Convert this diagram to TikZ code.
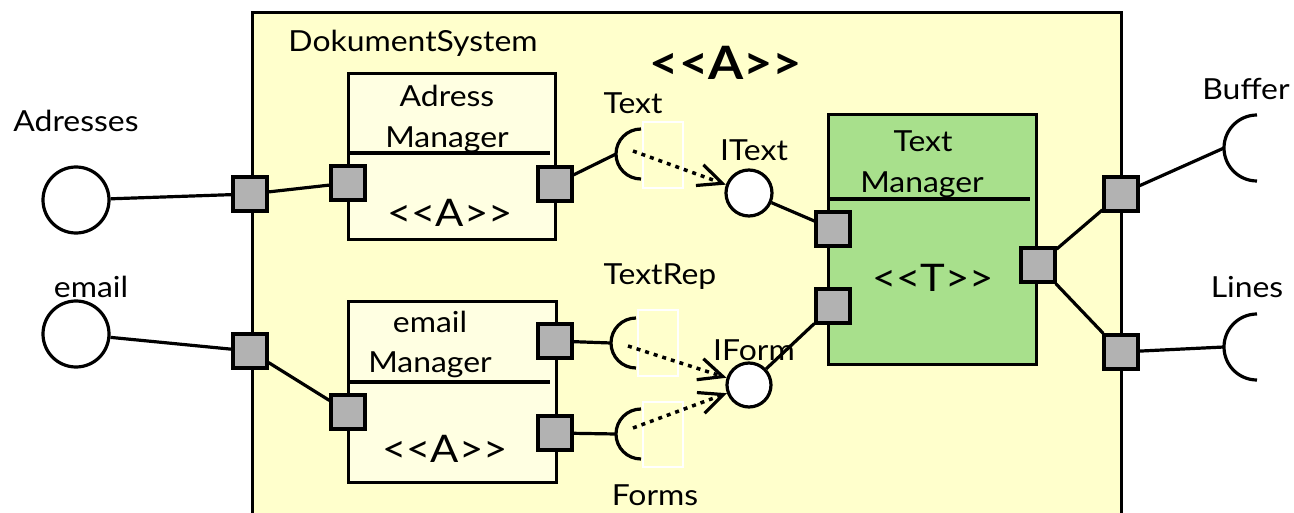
\documentclass[tikz,border=0pt]{standalone}
\usepackage{fontspec}
\setmainfont{Lato}[FakeStretch=1.1]
\usetikzlibrary{arrows.meta}
\definecolor{sysfill}{RGB}{255,255,204}
\definecolor{compfill}{RGB}{255,255,226}
\definecolor{tmfill}{RGB}{168,224,140}
\definecolor{portgray}{RGB}{178,178,178}
\tikzset{
  sysbox/.style={draw, line width=3.2pt, fill=sysfill, anchor=north west, inner sep=0pt},
  compbox/.style={draw, line width=3.2pt, fill=compfill, anchor=north west, inner sep=0pt},
  tmbox/.style={draw, line width=3.2pt, fill=tmfill, anchor=north west, inner sep=0pt},
  port/.style={draw, line width=3.2pt, fill=portgray, minimum size=34pt, inner sep=0pt},
  iface/.style={circle, draw, line width=3.2pt, fill=white, inner sep=0pt},
  wire/.style={line width=3.2pt},
  sock/.style={line width=3.2pt},
  ghost/.style={draw=white, line width=2pt, anchor=north west, inner sep=0pt},
  dep/.style={line width=3.5pt, dash pattern=on 4pt off 5pt, -{Straight Barb[length=24pt,width=22pt,line width=3.2pt]}},
  txt/.style={font=\fontsize{29}{34}\selectfont, anchor=base, inner sep=0pt},
  stereo/.style={font=\fontsize{38}{44}\selectfont, anchor=base, inner sep=0pt},
  bigstereo/.style={font=\bfseries\fontsize{46}{54}\selectfont, anchor=base, inner sep=0pt}
}
\newcommand{\stq}[1]{<{}<#1>{}>}
\begin{document}
\begin{tikzpicture}[x=1pt,y=-1pt]
\useasboundingbox (0,0) rectangle (1294,513);
\clip (0,0) rectangle (1294,513);
\fill[white] (0,0) rectangle (1294,513);

% system box
\node[sysbox, minimum width=869pt, minimum height=540pt] (sys) at (251,11) {};
\node[txt] (tDok) at (413,52) {DokumentSystem};
\node[bigstereo] (tSysA) at (726,80) {\stq{A}};

% Adress Manager
\node[compbox, minimum width=207pt, minimum height=166pt] (am) at (347,72) {};
\draw[wire] (347,153) -- (550,153);
\node[txt] (tAM1) at (447,107) {Adress};
\node[txt] (tAM2) at (447,148) {Manager};
\node[stereo] (tAM3) at (450,227) {\stq{A}};

% email Manager
\node[compbox, minimum width=208pt, minimum height=181pt] (em) at (347,300) {};
\draw[wire] (347,382) -- (550,382);
\node[txt] (tEM1) at (430,332) {email};
\node[txt] (tEM2) at (430,372) {Manager};
\node[stereo] (tEM3) at (445,462) {\stq{A}};

% Text Manager
\node[tmbox, minimum width=208pt, minimum height=250pt] (tm) at (827,113) {};
\draw[wire] (827,199) -- (1030,199);
\node[txt] (tTM1) at (923,152) {Text};
\node[txt] (tTM2) at (922,193) {Manager};
\node[stereo] (tTM3) at (933,291) {\stq{T}};

% ghost rectangles
\node[ghost, minimum width=40pt, minimum height=66pt] (gText) at (642,121) {};
\node[ghost, minimum width=40pt, minimum height=66pt] (gTextRep) at (637,309) {};
\node[ghost, minimum width=40pt, minimum height=65pt] (gForms) at (642,401) {};

% external interfaces
\node[iface, minimum size=66pt] (cAdr) at (76,200) {};
\node[iface, minimum size=66pt] (cEmail) at (76,334) {};
\node[txt] (tAdr) at (76,132) {Adresses};
\node[txt] (tEmail) at (91,298) {email};

% internal provided interfaces
\node[iface, minimum size=46pt] (cIText) at (749,193) {};
\node[iface, minimum size=44pt] (cIForm) at (749,385) {};
\node[txt] (tIText) at (754,161) {IText};
\node[txt] (tIForm) at (754,360) {IForm};

% sockets
\coordinate (sText) at (641,154);
\coordinate (sTextL) at (616,154);
\coordinate (sTextRep) at (636,343);
\coordinate (sTextRepL) at (611,343);
\coordinate (sForms) at (641,434);
\coordinate (sFormsL) at (616,434);
\coordinate (sBuffer) at (1257,148);
\coordinate (sBufferL) at (1224,148);
\coordinate (sLines) at (1257,347);
\coordinate (sLinesL) at (1224,347);
\draw[sock] ([shift={(0,-25)}]sText) arc[start angle=90, end angle=270, radius=25pt];
\draw[sock] ([shift={(0,-25)}]sTextRep) arc[start angle=90, end angle=270, radius=25pt];
\draw[sock] ([shift={(0,-25)}]sForms) arc[start angle=90, end angle=270, radius=25pt];
\draw[sock] ([shift={(0,-33)}]sBuffer) arc[start angle=90, end angle=270, radius=33pt];
\draw[sock] ([shift={(0,-33)}]sLines) arc[start angle=90, end angle=270, radius=33pt];
\node[txt] (tText) at (633,114) {Text};
\node[txt] (tTextRep) at (660,285) {TextRep};
\node[txt] (tForms) at (655,505) {Forms};
\node[txt] (tBuffer) at (1246,100) {Buffer};
\node[txt] (tLines) at (1247,298) {Lines};

% ports
\node[port] (pL1) at (250,194) {};
\node[port] (pL2) at (250,351) {};
\node[port] (pAMl) at (348,183) {};
\node[port] (pAMr) at (555,184) {};
\node[port] (pEMl) at (348,412) {};
\node[port] (pEMr1) at (555,341) {};
\node[port] (pEMr2) at (555,433) {};
\node[port] (pTM1) at (833,229) {};
\node[port] (pTM2) at (833,306) {};
\node[port] (pTMr) at (1038,265) {};
\node[port] (pR1) at (1121,194) {};
\node[port] (pR2) at (1121,352) {};

% wires
\draw[wire] (cAdr) -- (pL1);
\draw[wire] (pL1) -- (pAMl);
\draw[wire] (cEmail) -- (pL2);
\draw[wire] (pL2) -- (pEMl);
\draw[wire] (pAMr) -- (sTextL);
\draw[wire] (pEMr1) -- (sTextRepL);
\draw[wire] (pEMr2) -- (sFormsL);
\draw[wire] (cIText) -- (pTM1);
\draw[wire] (cIForm) -- (pTM2);
\draw[wire] (pTMr) -- (pR1);
\draw[wire] (pTMr) -- (pR2);
\draw[wire] (pR1) -- (sBufferL);
\draw[wire] (pR2) -- (sLinesL);

% dependencies
\coordinate (dText) at (633,151);
\coordinate (dTextRep) at (628,346);
\coordinate (dForms) at (633,428);
\draw[dep] (dText) -- (cIText);
\draw[dep] (dTextRep) -- (cIForm);
\draw[dep] (dForms) -- (cIForm);
\end{tikzpicture}
\end{document}
